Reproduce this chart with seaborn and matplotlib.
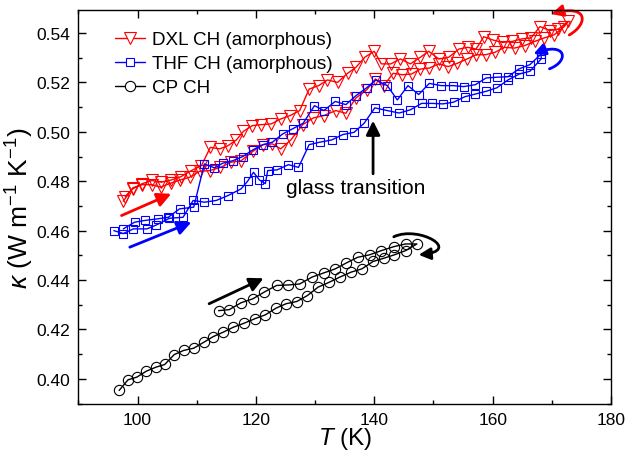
import matplotlib
matplotlib.use("Agg")
import matplotlib.pyplot as plt
import matplotlib.ticker as mticker
from matplotlib.lines import Line2D
from matplotlib.path import Path
from matplotlib.patches import FancyArrowPatch
import numpy as np
import pandas as pd
import seaborn as sns

# ---- measured thermal conductivity, kappa (W m^-1 K^-1) vs T (K) ----
# DXL clathrate hydrate (amorphous): heating run, then cooling run
dxl_heat_T = [97.6, 99.2, 100.8, 102.4, 103.9, 105.6, 107.2, 108.8, 110.5, 112.2,
              114.0, 115.8, 117.5, 119.5, 121.2, 122.8, 124.2, 125.9, 127.9, 129.7,
              131.5, 133.5, 135.2, 136.9, 138.7, 140.2, 141.6, 143.2, 144.7, 146.3,
              147.8, 149.3, 150.9, 152.5, 154.0, 155.7, 157.2, 158.8, 160.4, 162.0,
              163.7, 165.4, 167.1, 168.7, 170.4, 172.1]
dxl_heat_k = [0.4719, 0.4773, 0.4786, 0.4786, 0.4776, 0.4792, 0.4805, 0.4816, 0.4840, 0.4843,
              0.4856, 0.4877, 0.4883, 0.4921, 0.4948, 0.4951, 0.4931, 0.4967, 0.5029, 0.5056,
              0.5066, 0.5086, 0.5075, 0.5137, 0.5169, 0.5214, 0.5187, 0.5237, 0.5231, 0.5234,
              0.5254, 0.5258, 0.5275, 0.5264, 0.5277, 0.5295, 0.5312, 0.5312, 0.5322, 0.5342,
              0.5339, 0.5349, 0.5366, 0.5380, 0.5393, 0.5426]
dxl_cool_T = [172.8, 171.1, 169.7, 168.0, 166.5, 164.9, 163.3, 161.7, 160.0, 158.5,
              157.2, 155.8, 154.3, 152.6, 150.9, 149.2, 147.8, 146.1, 144.4, 142.8,
              141.2, 140.0, 138.4, 136.9, 135.5, 133.8, 132.1, 130.6, 129.0, 127.4,
              125.8, 124.2, 122.6, 120.9, 119.4, 117.9, 116.7, 115.3, 113.9, 112.3,
              110.8, 109.1, 107.4, 105.7, 104.0, 102.4, 100.7, 99.2, 97.9]
dxl_cool_k = [0.5447, 0.5416, 0.5410, 0.5426, 0.5380, 0.5376, 0.5366, 0.5362, 0.5372, 0.5385,
              0.5335, 0.5342, 0.5335, 0.5302, 0.5295, 0.5326, 0.5302, 0.5275, 0.5295, 0.5275,
              0.5275, 0.5326, 0.5302, 0.5261, 0.5237, 0.5200, 0.5210, 0.5187, 0.5173, 0.5086,
              0.5066, 0.5052, 0.5032, 0.5029, 0.5025, 0.5002, 0.4967, 0.4944, 0.4931, 0.4937,
              0.4863, 0.4843, 0.4819, 0.4805, 0.4796, 0.4803, 0.4789, 0.4769, 0.4738]

# THF clathrate hydrate (amorphous): heating run, then cooling run
thf_heat_T = [96.0, 97.6, 99.3, 101.6, 103.2, 105.4, 107.7, 109.4, 111.3, 113.3,
              115.3, 117.5, 118.6, 119.6, 120.6, 121.6, 122.0, 123.6, 125.5, 127.2,
              129.0, 130.8, 132.8, 134.7, 136.6, 138.3, 140.1, 142.2, 144.2, 146.1,
              148.0, 149.8, 151.6, 153.4, 155.3, 157.1, 158.9, 160.7, 162.6, 164.5,
              166.3, 168.2]
thf_heat_k = [0.4600, 0.4588, 0.4607, 0.4607, 0.4623, 0.4650, 0.4654, 0.4722, 0.4715, 0.4722,
              0.4742, 0.4769, 0.4800, 0.4836, 0.4805, 0.4790, 0.4843, 0.4846, 0.4867, 0.4856,
              0.4948, 0.4958, 0.4967, 0.4989, 0.4998, 0.5035, 0.5097, 0.5086, 0.5076, 0.5089,
              0.5115, 0.5115, 0.5113, 0.5120, 0.5142, 0.5153, 0.5164, 0.5178, 0.5210, 0.5234,
              0.5245, 0.5295]
thf_cool_T = [168.2, 166.3, 164.4, 162.6, 160.7, 158.9, 157.1, 155.1, 153.3, 151.3,
              149.3, 147.5, 145.7, 143.9, 142.2, 140.3, 138.7, 136.9, 135.2, 133.4,
              131.5, 129.9, 128.0, 126.2, 124.5, 122.8, 121.2, 119.5, 117.8, 116.1,
              114.4, 113.0, 111.3, 109.5, 107.1, 105.2, 103.5, 101.2, 99.5, 97.6]
thf_cool_k = [0.5315, 0.5272, 0.5254, 0.5223, 0.5221, 0.5218, 0.5191, 0.5183, 0.5187, 0.5187,
              0.5196, 0.5151, 0.5187, 0.5129, 0.5187, 0.5210, 0.5178, 0.5146, 0.5110, 0.5123,
              0.5086, 0.5106, 0.5035, 0.5012, 0.4991, 0.4958, 0.4948, 0.4927, 0.4900, 0.4883,
              0.4873, 0.4854, 0.4870, 0.4695, 0.4688, 0.4654, 0.4648, 0.4641, 0.4634, 0.4607]

# CP clathrate hydrate (crystalline): heating run, then cooling run
cp_heat_T = [113.7, 115.5, 117.5, 119.5, 121.4, 123.5, 125.5, 127.4, 129.5, 131.5,
             133.4, 135.2, 137.2, 139.2, 141.2, 143.3, 145.3, 147.2]
cp_heat_k = [0.4276, 0.4280, 0.4308, 0.4324, 0.4351, 0.4378, 0.4380, 0.4384, 0.4412, 0.4429,
             0.4445, 0.4468, 0.4492, 0.4502, 0.4519, 0.4535, 0.4546, 0.4546]
cp_cool_T = [145.3, 143.4, 141.6, 139.8, 137.9, 136.1, 134.2, 132.4, 130.5, 128.7,
             126.9, 125.1, 123.4, 121.6, 119.8, 118.0, 116.2, 114.5, 112.8, 111.2,
             109.5, 107.8, 106.2, 104.6, 103.1, 101.5, 99.9, 98.4, 96.9]
cp_cool_k = [0.4519, 0.4502, 0.4488, 0.4475, 0.4445, 0.4432, 0.4412, 0.4391, 0.4371, 0.4337,
             0.4313, 0.4304, 0.4286, 0.4259, 0.4243, 0.4225, 0.4209, 0.4189, 0.4171, 0.4148,
             0.4124, 0.4115, 0.4098, 0.4058, 0.4047, 0.4031, 0.4007, 0.3996, 0.3953]

series_labels = ["DXL CH (amorphous)", "THF CH (amorphous)", "CP CH"]

# ---- style ----
sns.set_theme(style="ticks")
plt.rcParams["font.family"] = ["Liberation Sans", "DejaVu Sans"]
plt.rcParams["mathtext.fontset"] = "custom"
plt.rcParams["mathtext.rm"] = "Liberation Sans"
plt.rcParams["mathtext.it"] = "Liberation Sans:italic"
plt.rcParams["axes.linewidth"] = 1.0
plt.rcParams["axes.edgecolor"] = "black"
plt.rcParams["text.color"] = "black"
plt.rcParams["axes.labelcolor"] = "black"

fig = plt.figure(figsize=(6.27, 4.56), dpi=100)
ax = fig.add_axes([0.1249, 0.1129, 0.8496, 0.8629])


def run_frame(hT, hk, cT, ck):
    return pd.DataFrame({"T": list(hT) + list(cT), "k": list(hk) + list(ck)})


styles = [
    (run_frame(dxl_heat_T, dxl_heat_k, dxl_cool_T, dxl_cool_k), "#ff0000", "v", 8.0),
    (run_frame(thf_heat_T, thf_heat_k, thf_cool_T, thf_cool_k), "#0000ff", "s", 6.4),
    (run_frame(cp_heat_T, cp_heat_k, cp_cool_T, cp_cool_k), "black", "o", 7.4),
]

handles = []
for (df, color, marker, ms), label in zip(styles, series_labels):
    sns.lineplot(data=df, x="T", y="k", sort=False, estimator=None, ax=ax,
                 color=color, lw=1.0, marker=marker, markersize=ms,
                 markerfacecolor="none", markeredgecolor=color, markeredgewidth=0.8,
                 legend=False)
    handles.append(Line2D([], [], color=color, lw=1.0, marker=marker, markersize=ms,
                          markerfacecolor="white", markeredgecolor=color,
                          markeredgewidth=0.8, label=label))

# ---- axes ----
ax.set_xlim(90, 180)
ax.set_ylim(0.39, 0.5493)
ax.xaxis.set_major_locator(mticker.MultipleLocator(20))
ax.xaxis.set_minor_locator(mticker.MultipleLocator(10))
ax.yaxis.set_major_locator(mticker.MultipleLocator(0.02))
ax.yaxis.set_minor_locator(mticker.MultipleLocator(0.01))
ax.yaxis.set_major_formatter(mticker.FormatStrFormatter("%.2f"))
ax.tick_params(which="both", direction="in", top=True, right=True, width=1.0,
               labelsize=12.5, colors="black", pad=6)
ax.tick_params(which="major", length=5.5)
ax.tick_params(which="minor", length=3)
ax.set_xlabel(r"$T$ (K)", fontsize=17.5, labelpad=-1)
ax.set_ylabel(r"$\kappa$ (W m$^{-1}$ K$^{-1}$)", fontsize=19, labelpad=0)

ax.legend(handles=handles, loc="upper left", bbox_to_anchor=(0.069, 0.947),
          frameon=False, fontsize=13.6, handlelength=1.6, handletextpad=0.35,
          labelspacing=0.36, borderpad=0, borderaxespad=0)

# ---- run-direction arrows ----
straight = dict(arrowstyle="-|>,head_length=0.7,head_width=0.35", lw=2.0,
                shrinkA=0, shrinkB=0)
ax.annotate("", xy=(105.7, 0.4749), xytext=(97.3, 0.4661),
            arrowprops=dict(color="#ff0000", **straight))
ax.annotate("", xy=(109.1, 0.4634), xytext=(98.7, 0.4533),
            arrowprops=dict(color="#0000ff", **straight))
ax.annotate("", xy=(121.3, 0.4407), xytext=(112.1, 0.4304),
            arrowprops=dict(color="black", **straight))


def loop_arrow(points, color):
    """Curved arrow along a cubic Bezier given in data coordinates."""
    path = Path(points, [Path.MOVETO, Path.CURVE4, Path.CURVE4, Path.CURVE4])
    patch = FancyArrowPatch(path=path, arrowstyle="-|>,head_length=7,head_width=3.5",
                            color=color, lw=2.0, transform=ax.transData,
                            clip_on=False, shrinkA=0, shrinkB=0)
    ax.add_patch(patch)


# turning points at the top of each run (heating -> cooling)
loop_arrow([(172.95, 0.5392), (176.2, 0.5437), (176.2, 0.5518), (169.9, 0.5477)], "#ff0000")
loop_arrow([(169.6, 0.5255), (173.1, 0.5287), (172.4, 0.5368), (166.9, 0.5315)], "#0000ff")
loop_arrow([(143.3, 0.4575), (147.5, 0.4623), (155.1, 0.4518), (147.5, 0.4502)], "black")

# ---- glass transition marker ----
ax.annotate("", xy=(139.8, 0.5045), xytext=(139.8, 0.4830),
            arrowprops=dict(color="black", **straight))
ax.text(136.9, 0.4776, "glass transition", fontsize=15, ha="center", va="center",
        color="black")

fig.savefig("out.png", dpi=100)
